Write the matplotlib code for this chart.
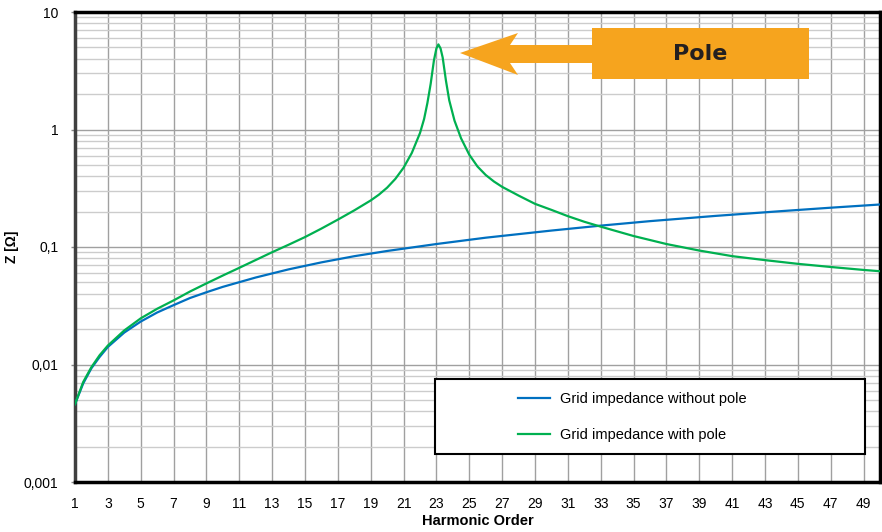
import matplotlib
matplotlib.use("Agg")
import matplotlib.pyplot as plt
from matplotlib.ticker import FixedLocator, FuncFormatter, LogLocator, NullFormatter
from matplotlib.patches import Polygon, Rectangle

plt.rcParams['font.family'] = ['Liberation Sans', 'DejaVu Sans']

# ---- data ----
h_without = [1, 1.5, 2, 2.5, 3, 4, 5, 6, 7, 8, 9, 10, 12, 14, 16, 18, 20, 23,
             26, 30, 33, 36, 40, 44, 47, 50]
z_without = [0.0046, 0.0069, 0.0093, 0.0116, 0.0141, 0.0187, 0.0232, 0.0277,
             0.0320, 0.0368, 0.0412, 0.0458, 0.0550, 0.0645, 0.0740, 0.0835,
             0.0925, 0.106, 0.120, 0.138, 0.152, 0.166, 0.184, 0.202, 0.216,
             0.230]

h_with = [1, 1.5, 2, 2.5, 3, 4, 5, 6, 7, 8, 9, 10, 11, 12, 13, 14, 15, 16, 17,
          18, 19, 19.5, 20, 20.5, 21, 21.5, 22, 22.25, 22.45, 22.65, 22.85,
          23.0, 23.12, 23.25, 23.38, 23.58, 23.78, 24.1, 24.5, 25, 25.5, 26,
          26.5, 27, 28, 29, 30, 31, 32, 33, 35, 37, 39, 41, 43, 45, 47, 49, 50]
z_with = [0.0046, 0.0071, 0.0095, 0.0120, 0.0145, 0.0195, 0.0247, 0.0298,
          0.0351, 0.0418, 0.0490, 0.0572, 0.0665, 0.0775, 0.0903, 0.1045,
          0.1215, 0.1435, 0.171, 0.205, 0.249, 0.279, 0.320, 0.380, 0.473,
          0.631, 0.933, 1.23, 1.68, 2.45, 3.89, 4.90, 5.30, 4.90, 4.10, 2.60,
          1.77, 1.19, 0.841, 0.610, 0.484, 0.410, 0.361, 0.325, 0.274, 0.233,
          0.207, 0.183, 0.164, 0.149, 0.124, 0.106, 0.0933, 0.0836, 0.0773,
          0.0719, 0.0676, 0.0638, 0.0622]

x_ticks = list(range(1, 50, 2))
y_ticks = [0.001, 0.01, 0.1, 1, 10]
y_labels = ['0,001', '0,01', '0,1', '1', '10']
labels = ['Grid impedance without pole', 'Grid impedance with pole']
annot_text = 'Pole'

W, H = 882, 532
fig = plt.figure(figsize=(W / 100, H / 100), dpi=100)
L, R, T, B = 75, 880, 12, 482
ax = fig.add_axes([L / W, 1 - B / H, (R - L) / W, (B - T) / H])

l1, = ax.plot(h_without, z_without, color='#0070C0', lw=1.6, zorder=3,
              solid_joinstyle='round')
l2, = ax.plot(h_with, z_with, color='#00B050', lw=1.6, zorder=3,
              solid_joinstyle='round')

ax.set_yscale('log')
ax.set_xlim(1, 50)
ax.set_ylim(0.001, 10)

ax.xaxis.set_major_locator(FixedLocator(x_ticks))
ax.yaxis.set_major_locator(FixedLocator(y_ticks))
ax.yaxis.set_major_formatter(FuncFormatter(
    lambda v, p: y_labels[y_ticks.index(min(y_ticks, key=lambda t: abs(t - v)))]))
ax.yaxis.set_minor_locator(LogLocator(base=10, subs=range(2, 10)))
ax.yaxis.set_minor_formatter(NullFormatter())

ax.grid(True, which='major', axis='x', color='#a0a0a0', lw=1.0, zorder=1)
ax.grid(True, which='major', axis='y', color='#a0a0a0', lw=1.0, zorder=1)
ax.grid(True, which='minor', axis='y', color='#cccccc', lw=1.0, zorder=1)

ax.tick_params(axis='x', length=0, pad=11, labelsize=10)
ax.tick_params(axis='y', which='major', length=3, width=1, color='#888888',
               pad=9, labelsize=10)
ax.tick_params(axis='y', which='minor', length=0)

for side in ['top', 'right', 'bottom']:
    ax.spines[side].set_linewidth(2.5)
    ax.spines[side].set_color('black')
ax.spines['left'].set_linewidth(2.5)
ax.spines['left'].set_color('#404040')

ax.set_xlabel('Harmonic Order', fontsize=10.5, fontweight='bold')
ax.xaxis.set_label_coords(0.5, -(521 - B) / (B - T), transform=ax.transAxes)
ax.set_ylabel('Z [Ω]', fontsize=10, fontweight='bold')
ax.yaxis.set_label_coords(-(L - 12) / (R - L), 0.5, transform=ax.transAxes)
ax.xaxis.label.set_va('center')
ax.yaxis.label.set_va('center')

# legend box
bx0, bx1, by0, by1 = 435, 865, 379, 454
ax.add_patch(Rectangle(((bx0 - L) / (R - L), (B - by1) / (B - T)),
                       (bx1 - bx0) / (R - L), (by1 - by0) / (B - T),
                       transform=ax.transAxes, facecolor='white',
                       edgecolor='black', lw=1.5, zorder=5))
leg = ax.legend([l1, l2], labels, loc='center left',
                bbox_to_anchor=((518 - L) / (R - L), (B - 417) / (B - T)),
                frameon=False, fontsize=10.5, handlelength=2.2,
                handletextpad=0.7, labelspacing=1.5, borderpad=0,
                borderaxespad=0)
leg.set_zorder(6)

# Pole annotation (arrow + box), pixel coordinates of the figure
def fc(x, y):
    return (x / W, 1 - y / H)

orange = '#F6A41E'
arrow_pts = [fc(460, 53), fc(518, 33), fc(510, 45), fc(595, 45),
             fc(595, 63), fc(510, 63), fc(518, 75)]
fig.patches.append(Polygon(arrow_pts, closed=True, transform=fig.transFigure,
                           facecolor=orange, edgecolor='none', zorder=10))
fig.patches.append(Rectangle(fc(592, 79), (809 - 592) / W, (79 - 28) / H,
                             transform=fig.transFigure, facecolor=orange,
                             edgecolor='none', zorder=10))
fig.text(700 / W, 1 - 54 / H, annot_text, ha='center', va='center',
         fontsize=16, fontweight='bold', color='#231F20',
         family=['DejaVu Sans'], zorder=11)

fig.savefig('out.png', dpi=100)
